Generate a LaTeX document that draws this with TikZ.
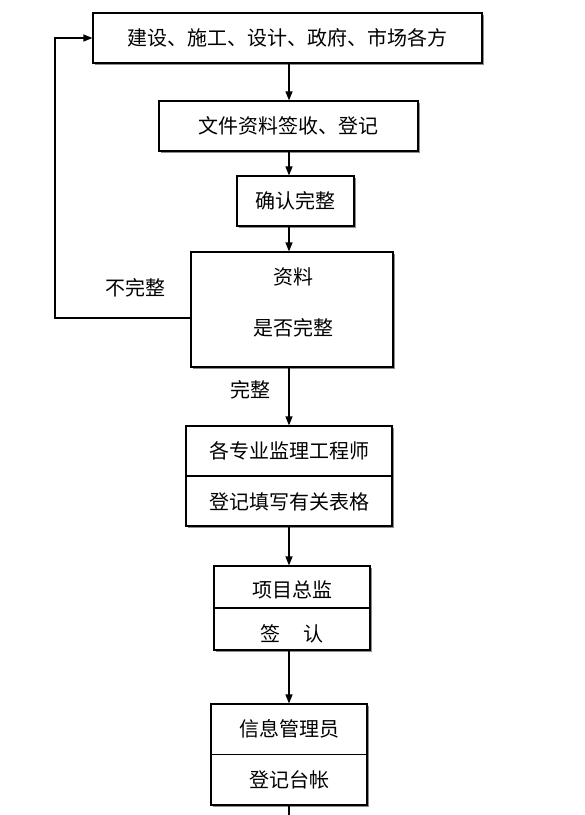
\documentclass[tikz,border=0pt]{standalone}
\usepackage{fontspec}
\newfontfamily\cjk{Noto Sans CJK SC}
\usetikzlibrary{shadows,arrows.meta}
\begin{document}
\begin{tikzpicture}[x=1pt,y=-1pt,
  box/.style={draw=black,line width=1.2pt,fill=white,inner sep=0pt,
    drop shadow={shadow xshift=2pt,shadow yshift=-2pt,fill=black!45,opacity=1}},
  txt/.style={font=\cjk\fontsize{20}{24}\selectfont,inner sep=0pt},
  arr/.style={line width=1.2pt,-{Triangle[length=9pt,width=7pt]}},
  ln/.style={line width=1.2pt}]
\useasboundingbox (0,0) rectangle (585,815);
\fill[white] (0,0) rectangle (585,815);
% boxes
\node[box,minimum width=389pt,minimum height=50pt] (b1) at (287.5,38) {};
\node[txt] (t1) at (b1) {建设、施工、设计、政府、市场各方};
\node[box,minimum width=259pt,minimum height=50pt] (b2) at (288.5,126) {};
\node[txt] (t2) at (b2) {文件资料签收、登记};
\node[box,minimum width=117pt,minimum height=50pt] (b3) at (295.5,201) {};
\node[txt] (t3) at (b3) {确认完整};
\node[box,minimum width=202pt,minimum height=115pt] (b4) at (292,309.5) {};
\node[txt] (t4a) at (293,277) {资料};
\node[txt] (t4b) at (293,328) {是否完整};
\node[box,minimum width=206pt,minimum height=100pt] (b5) at (289,476) {};
\draw[ln] (b5.west) -- (b5.east);
\node[txt] (t5a) at (289,451) {各专业监理工程师};
\node[txt] (t5b) at (289,502) {登记填写有关表格};
\node[box,minimum width=156pt,minimum height=84pt] (b6) at (292,608) {};
\draw[ln] (b6.west) -- (b6.east);
\node[txt] (t6a) at (292,590) {项目总监};
\node[txt] (t6b) at (292,634) {签\hspace{1.2em}认};
\node[box,minimum width=156pt,minimum height=101pt] (b7) at (289,754.5) {};
\draw[ln] (b7.west) -- (b7.east);
\node[txt] (t7a) at (289,729) {信息管理员};
\node[txt] (t7b) at (289,780) {登记台帐};
% labels
\node[txt] (l1) at (135,288) {不完整};
\node[txt] (l2) at (250,390) {完整};
% connectors
\coordinate (cx) at (289,0);
\draw[arr] (b1.south -| cx) -- (b2.north -| cx);
\draw[arr] (b2.south -| cx) -- (b3.north -| cx);
\draw[arr] (b3.south -| cx) -- (b4.north -| cx);
\draw[arr] (b4.south -| cx) -- (b5.north -| cx);
\draw[arr] (b5.south -| cx) -- (b6.north -| cx);
\draw[arr] (b6.south -| cx) -- (b7.north -| cx);
\coordinate (bend) at (289,815);
\draw[ln] (b7.south -| cx) -- (bend);
\coordinate (la) at (55,318);
\coordinate (lb) at (55,38);
\draw[arr] (b4.west |- la) -- (la) -- (lb) -- (b1.west);
\end{tikzpicture}
\end{document}
